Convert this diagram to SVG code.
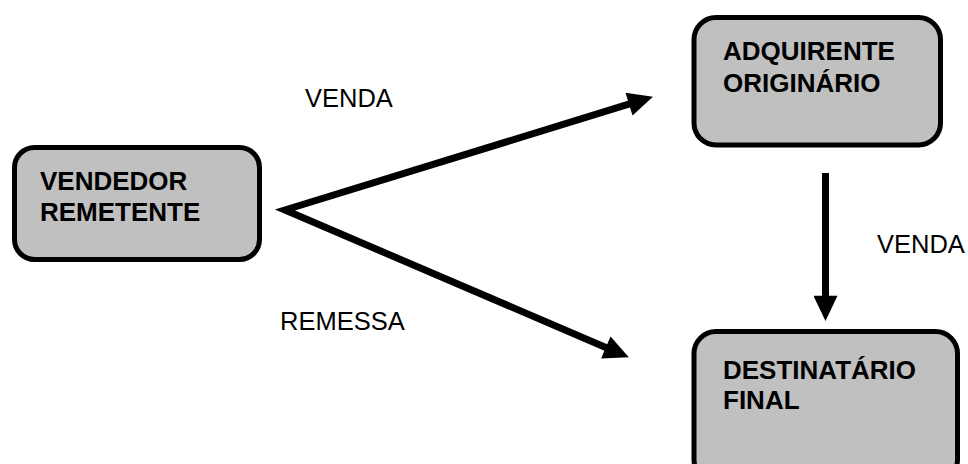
<svg xmlns="http://www.w3.org/2000/svg" width="968" height="464" viewBox="0 0 968 464">
<defs>
<style>
.box{fill:#c0c0c0;stroke:#000;stroke-width:5}
.nt{font-family:"Liberation Sans",Arial,sans-serif;font-weight:bold;font-size:26px;fill:#000}
.lb{font-family:"Liberation Sans",Arial,sans-serif;font-size:25.5px;fill:#000}
.cn{fill:none;stroke:#000;stroke-width:7;stroke-linejoin:miter;stroke-miterlimit:10}
</style>
<marker id="ah" markerUnits="userSpaceOnUse" markerWidth="26" markerHeight="24" refX="3" refY="11.5" orient="auto-start-reverse" viewBox="0 0 24 23">
<path d="M0,0 L24,11.5 L0,23 z" fill="#000"/>
</marker>
</defs>
<rect width="968" height="464" fill="#fff"/>
<g id="connectors">
<path class="cn" d="M632,103.2 L285,210 L608.7,348.7" marker-start="url(#ah)" marker-end="url(#ah)"/>
<path class="cn" d="M825.5,173 L825.5,299" marker-end="url(#ah)"/>
<text class="lb" x="305" y="107">VENDA</text>
<text class="lb" x="280" y="330">REMESSA</text>
<text class="lb" x="877" y="253">VENDA</text>
</g>
<g id="vendedor">
<rect class="box" x="14.5" y="147.5" width="245" height="112" rx="20"/>
<text class="nt" x="40" y="190">VENDEDOR</text>
<text class="nt" x="40" y="221">REMETENTE</text>
</g>
<g id="adquirente">
<rect class="box" x="694" y="17.5" width="246.5" height="127.5" rx="22"/>
<text class="nt" x="723" y="60">ADQUIRENTE</text>
<text class="nt" x="723" y="92">ORIGINÁRIO</text>
</g>
<g id="destinatario">
<rect class="box" x="694" y="331.5" width="263.5" height="150" rx="22"/>
<text class="nt" x="723" y="379">DESTINATÁRIO</text>
<text class="nt" x="723" y="409">FINAL</text>
</g>
</svg>
